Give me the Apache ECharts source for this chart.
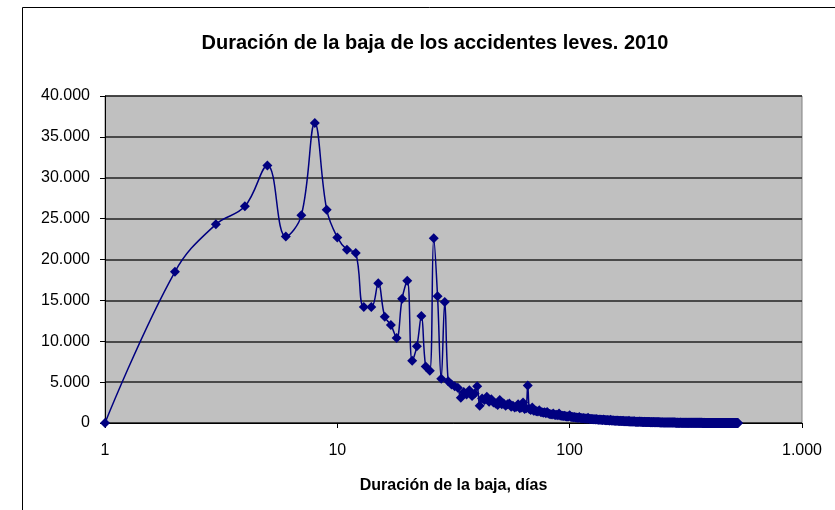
<!DOCTYPE html>
<html>
<head>
<meta charset="utf-8">
<script src="https://cdn.jsdelivr.net/npm/echarts@6/dist/echarts.min.js"></script>
<style>
html,body{margin:0;padding:0;background:#fff;}
#c{width:835px;height:510px;}
</style>
</head>
<body>
<div id="c"></div>
<script>
const titulo = 'Duración de la baja de los accidentes leves. 2010';
const tituloEje = 'Duración de la baja, días';
const yTicks = [0, 5000, 10000, 15000, 20000, 25000, 30000, 35000, 40000];
const xTicks = [1, 10, 100, 1000];

// accidentes por día de baja (días 1..30)
const valores1a30 = [
  0, 18500, 24300, 26500, 31500, 22800, 25400, 36700, 26100, 22700,
  21200, 20800, 14200, 14200, 17100, 13000, 12000, 10400, 15200, 17400,
  7600, 9400, 13100, 6900, 6400, 22600, 15500, 5400, 14800, 5100
];
// días 31..100
const valores31a100 = [
  4700, 4500, 4300, 3100, 3800, 3500, 4000, 3300, 3600, 4500,
  2100, 3000, 2800, 3200, 2600, 2900, 2500, 2400, 2200, 2800,
  2300, 2400, 2100, 2300, 2400, 2000, 2100, 1900, 2000, 2300,
  1800, 1900, 2500, 1700, 1800, 4600, 1700, 1600, 1900, 1500,
  1500, 1450, 1400, 1550, 1350, 1300, 1250, 1300, 1200, 1350,
  1150, 1100, 1080, 1050, 1150, 1000, 980, 1000, 950, 1150,
  920, 900, 880, 860, 900, 830, 810, 800, 780, 950
];
// días 101..530
const valoresCola = [
  760, 740, 720, 700, 740, 680, 660, 650, 640, 720,
  620, 600, 590, 580, 610, 560, 550, 540, 530, 640,
  510, 500, 490, 480, 500, 460, 450, 445, 440, 480,
  430, 420, 410, 400, 420, 390, 385, 380, 370, 420,
  360, 355, 350, 340, 360, 330, 325, 320, 315, 400,
  310, 305, 300, 295, 305, 285, 280, 275, 270, 310,
  265, 260, 255, 250, 265, 245, 240, 235, 230, 265,
  225, 222, 218, 215, 225, 208, 205, 202, 198, 290,
  195, 192, 188, 185, 195, 180, 177, 174, 171, 200,
  168, 165, 162, 160, 168, 155, 152, 150, 148, 190,
  145, 142, 140, 138, 145, 133, 131, 129, 127, 150,
  125, 123, 121, 119, 125, 115, 113, 111, 110, 130,
  108, 106, 104, 102, 108, 99, 97, 96, 94, 110,
  92, 91, 89, 88, 92, 85, 84, 82, 81, 95,
  80, 78, 77, 76, 80, 74, 73, 72, 71, 82,
  70, 69, 68, 67, 70, 65, 64, 63, 62, 70,
  61, 60, 59, 58, 61, 57, 56, 55, 55, 62,
  54, 53, 52, 52, 54, 50, 50, 49, 48, 56,
  48, 47, 46, 46, 48, 45, 44, 44, 43, 48,
  42, 42, 41, 41, 43, 40, 39, 39, 38, 46,
  38, 37, 37, 36, 38, 35, 35, 34, 34, 38,
  33, 33, 32, 32, 33, 31, 31, 30, 30, 34,
  30, 29, 29, 28, 29, 28, 27, 27, 27, 30,
  26, 26, 26, 25, 26, 25, 24, 24, 24, 27,
  23, 23, 23, 22, 23, 22, 22, 21, 21, 24,
  21, 20, 20, 20, 21, 19, 19, 19, 18, 22,
  18, 18, 18, 17, 18, 17, 17, 16, 16, 18,
  16, 16, 15, 15, 16, 15, 15, 14, 14, 16,
  14, 14, 13, 13, 14, 13, 13, 13, 12, 14,
  12, 12, 12, 12, 12, 11, 11, 11, 11, 13,
  11, 10, 10, 10, 11, 10, 10, 10, 9, 11,
  9, 9, 9, 9, 9, 9, 8, 8, 8, 10,
  8, 8, 8, 8, 8, 7, 7, 7, 7, 8,
  7, 7, 7, 7, 7, 6, 6, 6, 6, 7,
  6, 6, 6, 6, 6, 6, 5, 5, 5, 6,
  5, 5, 5, 5, 5, 5, 5, 5, 5, 6,
  5, 4, 4, 4, 5, 4, 4, 4, 4, 5,
  4, 4, 4, 4, 4, 4, 4, 3, 3, 4,
  3, 3, 3, 3, 3, 3, 3, 3, 3, 4,
  3, 3, 3, 3, 3, 3, 3, 3, 2, 3,
  2, 2, 2, 2, 2, 2, 2, 2, 2, 3,
  2, 2, 2, 2, 2, 2, 2, 2, 2, 2,
  2, 2, 2, 2, 2, 1, 1, 1, 1, 1
];

const valores = valores1a30.concat(valores31a100, valoresCola);
const dias = valores.map((v, i) => i + 1);
const datos = dias.map((d, i) => [d, valores[i]]);

function miles(v) {
  return String(Math.round(v)).replace(/\B(?=(\d{3})+(?!\d))/g, '.');
}

const chart = echarts.init(document.getElementById('c'), null, {renderer: 'canvas'});
chart.setOption({
  animation: false,
  backgroundColor: '#fff',
  textStyle: {fontFamily: 'Liberation Sans, Arial, sans-serif'},
  title: {
    text: titulo,
    left: 430,
    top: 28,
    textAlign: 'center',
    textStyle: {fontSize: 20, fontWeight: 'bold', color: '#000', fontFamily: 'Liberation Sans, Arial, sans-serif'}
  },
  graphic: [{
    type: 'rect',
    shape: {x: 22.5, y: 7.5, width: 900, height: 600},
    style: {fill: 'none', stroke: '#000', lineWidth: 1},
    silent: true,
    z: 100
  }],
  grid: {
    left: 105, right: 33, top: 96, bottom: 87,
    show: true, backgroundColor: '#C0C0C0', borderColor: '#808080', borderWidth: 1
  },
  xAxis: {
    type: 'log',
    logBase: 10,
    min: xTicks[0],
    max: xTicks[xTicks.length - 1],
    name: tituloEje,
    nameLocation: 'middle',
    nameGap: 55,
    nameTextStyle: {fontSize: 16, fontWeight: 'bold', color: '#000'},
    axisLine: {show: true, onZero: false, lineStyle: {color: '#000', width: 1}},
    axisTick: {show: true, inside: false, length: 5, lineStyle: {color: '#000'}},
    minorTick: {show: false},
    splitLine: {show: false},
    axisLabel: {fontSize: 16, color: '#000', margin: 20, formatter: v => miles(v)}
  },
  yAxis: {
    type: 'value',
    min: yTicks[0],
    max: yTicks[yTicks.length - 1],
    interval: 5000,
    axisLine: {show: true, lineStyle: {color: '#000', width: 1}},
    axisTick: {show: true, inside: false, length: 5, lineStyle: {color: '#000'}},
    splitLine: {show: true, lineStyle: {color: '#222', width: 1.5}},
    axisLabel: {fontSize: 16, color: '#000', margin: 15, formatter: v => miles(v)}
  },
  series: [{
    type: 'line',
    data: datos,
    smooth: 0.4,
    showAllSymbol: true,
    symbol: 'diamond',
    symbolSize: 10,
    lineStyle: {color: '#000080', width: 1.5},
    itemStyle: {color: '#000080'},
    z: 5
  }]
});
</script>
</body>
</html>
